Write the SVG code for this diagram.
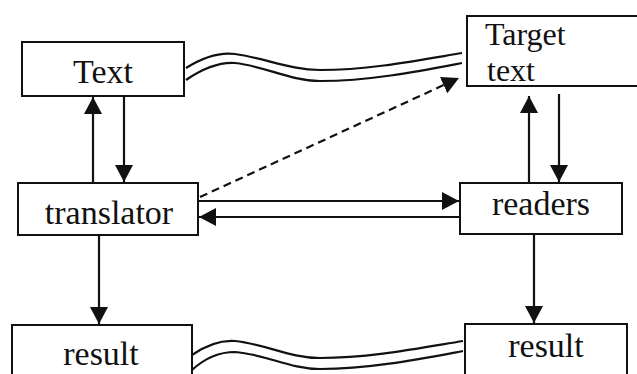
<svg xmlns="http://www.w3.org/2000/svg" width="637" height="374" viewBox="0 0 637 374">
  <style>
    .box { fill: #fff; stroke: #111; stroke-width: 2; }
    .lbl { font-family: "Liberation Serif", "Times New Roman", serif; font-size: 34px; fill: #111; }
    .tight { font-size: 32px; }
    .ln { fill: none; stroke: #111; stroke-width: 2.2; }
    .dash { fill: none; stroke: #111; stroke-width: 2.2; stroke-dasharray: 8 5; }
  </style>
  <defs>
    <marker id="head" markerUnits="userSpaceOnUse" markerWidth="18" markerHeight="18" viewBox="0 0 18 18" refX="17" refY="9" orient="auto">
      <path d="M0,0 L17,9 L0,18 Z" fill="#111"/>
    </marker>
  </defs>
  <rect width="637" height="374" fill="#fff"/>

  <g id="connectors">
    <!-- Text <-> translator -->
    <line class="ln" x1="93" y1="183" x2="93" y2="97" marker-end="url(#head)"/>
    <line class="ln" x1="124" y1="97" x2="124" y2="182" marker-end="url(#head)"/>
    <!-- Target text <-> readers -->
    <line class="ln" x1="529" y1="183" x2="529" y2="96" marker-end="url(#head)"/>
    <line class="ln" x1="559" y1="94" x2="559" y2="182" marker-end="url(#head)"/>
    <!-- translator <-> readers -->
    <line class="ln" x1="198" y1="201" x2="459" y2="201" marker-end="url(#head)"/>
    <line class="ln" x1="460" y1="217" x2="199" y2="217" marker-end="url(#head)"/>
    <!-- down to results -->
    <line class="ln" x1="99" y1="235" x2="99" y2="324" marker-end="url(#head)"/>
    <line class="ln" x1="534" y1="234" x2="534" y2="323" marker-end="url(#head)"/>
    <!-- translator to target text (dashed) -->
    <line class="dash" x1="200" y1="197" x2="459" y2="78" marker-end="url(#head)"/>
    <!-- wavy double links -->
    <path class="ln" d="M186,68 C205,56 220,52 235,54 C265,58 290,70 320,70 C370,70 420,60 462,53"/>
    <path class="ln" d="M186,80 C205,67 220,62 235,63 C265,66 290,81 320,81 C370,81 420,71 462,63"/>
    <path class="ln" d="M192,355 C205,346 220,340 235,341 C265,344 290,358 320,358 C370,358 420,348 463,341"/>
    <path class="ln" d="M192,370 C205,358 220,352 235,352 C265,354 290,369 320,369 C370,369 420,359 463,351"/>
  </g>

  <g id="text-node">
    <rect class="box" x="22" y="42" width="162" height="54"/>
    <text class="lbl" x="103" y="83" text-anchor="middle">Text</text>
  </g>
  <g id="target-node">
    <rect class="box" x="467" y="16" width="180" height="70"/>
    <text class="lbl tight" x="485" y="45">Target</text>
    <text class="lbl tight" x="487" y="81">text</text>
  </g>
  <g id="translator-node">
    <rect class="box" x="18" y="183" width="180" height="52"/>
    <text class="lbl" x="109" y="224" text-anchor="middle">translator</text>
  </g>
  <g id="readers-node">
    <rect class="box" x="460" y="183" width="162" height="51"/>
    <text class="lbl" x="541" y="215" text-anchor="middle">readers</text>
  </g>
  <g id="result-left">
    <rect class="box" x="12" y="325" width="180" height="60"/>
    <text class="lbl" x="101" y="365" text-anchor="middle">result</text>
  </g>
  <g id="result-right">
    <rect class="box" x="465" y="324" width="162" height="60"/>
    <text class="lbl" x="546" y="357" text-anchor="middle">result</text>
  </g>
</svg>
